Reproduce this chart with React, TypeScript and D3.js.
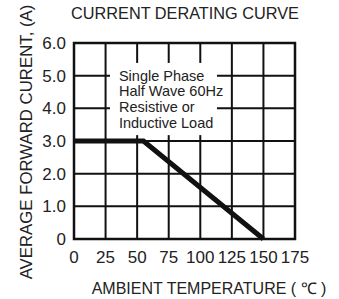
import { useEffect, useRef } from "react";
import * as d3 from "d3";

// derating curve: rated current held until the knee, then straight down to zero
const TEMPS = [0, 55, 150];
const CURRENTS = [3.0, 3.0, 0];

const X_TICKS = [0, 25, 50, 75, 100, 125, 150, 175];
const Y_TICKS = [0, 1, 2, 3, 4, 5, 6];
const Y_TICK_LABELS = ["0", "1.0", "2.0", "3.0", "4.0", "5.0", "6.0"];

const NOTE_LINES = ["Single Phase", "Half Wave 60Hz", "Resistive or", "Inductive Load"];

const TITLE = "CURRENT DERATING CURVE";
const X_TITLE = "AMBIENT TEMPERATURE ( \u2103 )";
const Y_TITLE = "AVERAGE FORWARD CURENT, (A)";

export default function App() {
  const svgRef = useRef<SVGSVGElement | null>(null);

  useEffect(() => {
    const width = 339;
    const height = 299;
    const margin = { top: 43, right: 44, bottom: 60, left: 74 };
    const innerWidth = width - margin.left - margin.right;
    const innerHeight = height - margin.top - margin.bottom;
    const font = "'Liberation Sans', Arial, sans-serif";
    const ink = "#111";
    const textColor = "#222";

    const svg = d3.select(svgRef.current);
    svg.selectAll("*").remove();
    svg.attr("width", width).attr("height", height);

    svg.append("rect").attr("width", width).attr("height", height).attr("fill", "#fff");

    const x = d3.scaleLinear().domain([0, 175]).range([0, innerWidth]);
    const y = d3.scaleLinear().domain([0, 6]).range([innerHeight, 0]);

    const g = svg.append("g").attr("transform", `translate(${margin.left},${margin.top})`);

    // grid
    g.selectAll(".vgrid")
      .data(X_TICKS.slice(1, -1))
      .join("line")
      .attr("x1", (d) => x(d))
      .attr("x2", (d) => x(d))
      .attr("y1", 0)
      .attr("y2", innerHeight)
      .attr("stroke", ink)
      .attr("stroke-width", 2);

    g.selectAll(".hgrid")
      .data(Y_TICKS.slice(1, -1))
      .join("line")
      .attr("x1", 0)
      .attr("x2", innerWidth)
      .attr("y1", (d) => y(d))
      .attr("y2", (d) => y(d))
      .attr("stroke", ink)
      .attr("stroke-width", 2);

    // note box blanks out the grid behind it
    g.append("rect")
      .attr("x", x(28.5))
      .attr("y", y(5.39))
      .attr("width", x(113.2) - x(28.5))
      .attr("height", y(3.18) - y(5.39))
      .attr("fill", "#fff");

    g.append("g")
      .selectAll("text")
      .data(NOTE_LINES)
      .join("text")
      .attr("x", x(35.6))
      .attr("y", (_, i) => y(5.0) + 5 + i * 15.7)
      .attr("font-family", font)
      .attr("font-size", 14.5)
      .attr("fill", textColor)
      .text((d) => d);

    // frame
    g.append("rect")
      .attr("width", innerWidth)
      .attr("height", innerHeight)
      .attr("fill", "none")
      .attr("stroke", ink)
      .attr("stroke-width", 2.5);

    // curve
    const line = d3
      .line<number>()
      .x((_, i) => x(TEMPS[i]))
      .y((d) => y(d));

    g.append("path")
      .datum(CURRENTS)
      .attr("fill", "none")
      .attr("stroke", ink)
      .attr("stroke-width", 5)
      .attr("stroke-linejoin", "miter")
      .attr("d", line);

    // tick labels
    g.append("g")
      .selectAll("text")
      .data(X_TICKS)
      .join("text")
      .attr("x", (d) => x(d))
      .attr("y", innerHeight + 24)
      .attr("text-anchor", "middle")
      .attr("font-family", font)
      .attr("font-size", 17)
      .attr("fill", textColor)
      .text((d) => d);

    g.append("g")
      .selectAll("text")
      .data(Y_TICKS)
      .join("text")
      .attr("x", -8)
      .attr("y", (d) => y(d) + 6)
      .attr("text-anchor", "end")
      .attr("font-family", font)
      .attr("font-size", 17)
      .attr("fill", textColor)
      .text((_, i) => Y_TICK_LABELS[i]);

    // titles
    svg.append("text")
      .attr("x", 185)
      .attr("y", 19)
      .attr("text-anchor", "middle")
      .attr("font-family", font)
      .attr("font-size", 16.3)
      .attr("fill", textColor)
      .text(TITLE);

    svg.append("text")
      .attr("x", 209)
      .attr("y", 294)
      .attr("text-anchor", "middle")
      .attr("font-family", font)
      .attr("font-size", 16)
      .attr("fill", textColor)
      .text(X_TITLE);

    svg.append("text")
      .attr("transform", `translate(32,142) rotate(-90)`)
      .attr("text-anchor", "middle")
      .attr("font-family", font)
      .attr("font-size", 16.8)
      .attr("fill", textColor)
      .text(Y_TITLE);
  }, []);

  return (
    <div style={{ position: "absolute", left: 0, top: 0 }}>
      <svg ref={svgRef} style={{ display: "block" }} />
    </div>
  );
}
